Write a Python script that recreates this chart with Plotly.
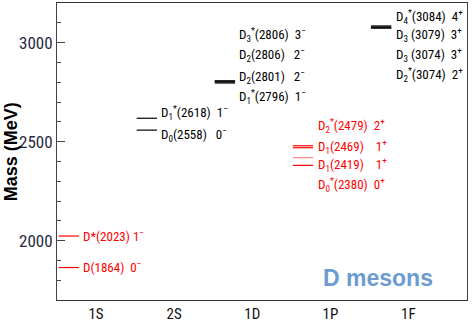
import plotly.graph_objects as go

# ---- data ----
categories = ["1S", "2S", "1D", "1P", "1F"]

state_cat = ["1S", "1S",
             "2S", "2S",
             "1D", "1D", "1D", "1D",
             "1P", "1P", "1P", "1P",
             "1F", "1F", "1F", "1F"]
state_mass = [2023, 1864,
              2618, 2558,
              2806, 2806, 2801, 2796,
              2479, 2469, 2419, 2380,
              3084, 3079, 3074, 3074]
state_label = ["D*(2023) 1<sup>−</sup>", "D(1864)\u00a0\u00a00<sup>−</sup>",
               "D<sub>1</sub><sup>*</sup>(2618)\u00a0\u00a01<sup>−</sup>",
               "D<sub>0</sub>(2558)\u00a0\u00a0\u00a00<sup>−</sup>",
               "D<sub>3</sub><sup>*</sup>(2806)\u00a0\u00a03<sup>−</sup>",
               "D<sub>2</sub>(2806)\u00a0\u00a0\u00a02<sup>−</sup>",
               "D<sub>2</sub>(2801)\u00a0\u00a0\u00a02<sup>−</sup>",
               "D<sub>1</sub><sup>*</sup>(2796)\u00a0\u00a01<sup>−</sup>",
               "D<sub>2</sub><sup>*</sup>(2479)\u00a0\u00a02<sup>+</sup>",
               "D<sub>1</sub>(2469)\u00a0\u00a0\u00a0\u00a01<sup>+</sup>",
               "D<sub>1</sub>(2419)\u00a0\u00a0\u00a0\u00a01<sup>+</sup>",
               "D<sub>0</sub><sup>*</sup>(2380)\u00a0\u00a00<sup>+</sup>",
               "D<sub>4</sub><sup>*</sup>(3084)\u00a0\u00a04<sup>+</sup>",
               "D<sub>3</sub>\u00a0(3079)\u00a0\u00a03<sup>+</sup>",
               "D<sub>3</sub>\u00a0(3074)\u00a0\u00a03<sup>+</sup>",
               "D<sub>2</sub><sup>*</sup>(3074)\u00a0\u00a02<sup>+</sup>"]
# label anchor heights (MeV), spread out so that texts do not overlap
label_y = [2024, 1866,
           2642, 2534,
           3040, 2935, 2828, 2725,
           2578, 2475, 2380, 2282,
           3130, 3040, 2938, 2834]
red = "#ff0000"
pink = "#ff8a8a"
black = "#000000"
state_color = [red, red,
               black, black,
               black, black, black, black,
               red, red, pink, red,
               black, black, black, black]
label_color = [red, red,
               black, black,
               black, black, black, black,
               red, red, red, red,
               black, black, black, black]

y_ticks = [2000, 2500, 3000]

# ---- figure ----
FONT = "Liberation Sans Narrow, Arial Narrow, Roboto Condensed, Roboto, Liberation Sans, sans-serif"
fig = go.Figure()

for cat, m, col in zip(state_cat, state_mass, state_color):
    c = categories.index(cat)
    fig.add_trace(go.Scatter(x=[c - 0.48, c - 0.22], y=[m, m], mode="lines",
                             line=dict(color=col, width=1.2),
                             showlegend=False, hoverinfo="skip"))

for cat, lab, ly, col in zip(state_cat, state_label, label_y, label_color):
    c = categories.index(cat)
    fig.add_annotation(x=c - 0.19, y=ly, xref="x", yref="y", text=lab,
                       showarrow=False, xanchor="left", yanchor="middle",
                       font=dict(family=FONT, size=13, color=col))

fig.add_annotation(x=0.783, y=0.075, xref="paper", yref="paper", text="<b>D mesons</b>",
                   showarrow=False, xanchor="center", yanchor="middle",
                   font=dict(family="Liberation Sans, Arial, sans-serif", size=23, color="#6b9bd1"))

fig.add_annotation(x=-0.113, y=0.50, xref="paper", yref="paper", text="<b>Mass (MeV)</b>",
                   showarrow=False, textangle=-90, xanchor="center", yanchor="middle",
                   font=dict(family="Liberation Sans, Arial, sans-serif", size=18, color="#000"))

fig.update_layout(
    width=472, height=325,
    margin=dict(l=57, r=5, t=2, b=18),
    paper_bgcolor="white", plot_bgcolor="white",
    xaxis=dict(range=[-0.5, 4.75], tickmode="array", tickvals=list(range(len(categories))),
               ticktext=categories, showgrid=False, zeroline=False,
               showline=True, linecolor="#333", linewidth=1, mirror=True, ticks="",
               tickfont=dict(family=FONT, size=15, color="#111")),
    yaxis=dict(range=[1700, 3200], tickmode="array", tickvals=y_ticks,
               showgrid=False, zeroline=False,
               showline=True, linecolor="#444", linewidth=1, mirror=True,
               ticks="inside", ticklen=8, tickcolor="#444",
               minor=dict(dtick=100, tick0=0, ticks="inside", ticklen=4, tickcolor="#444"),
               tickfont=dict(family=FONT, size=17, color="#1f2a44")),
)

fig.write_html("out.html", config={"displayModeBar": False},
               post_script="document.body.style.margin='0';")
